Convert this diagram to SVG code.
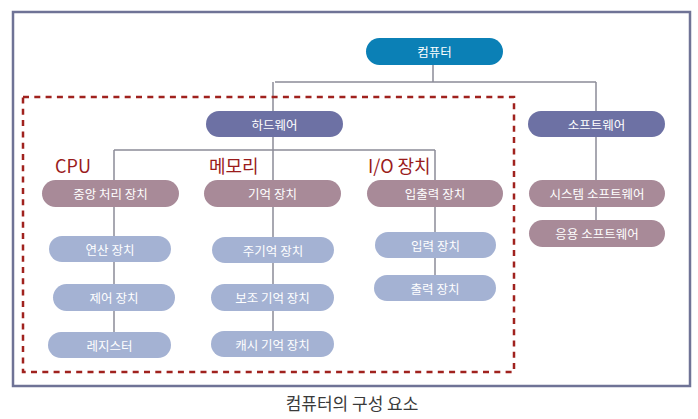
<svg xmlns="http://www.w3.org/2000/svg" width="698" height="419" viewBox="0 0 698 419">
<style>
  .t { font-family: "Noto Sans CJK KR", "Noto Sans", sans-serif; font-size: 12.5px; fill: #ffffff; text-anchor: middle; dominant-baseline: central; }
  .cat { font-family: "Noto Sans CJK KR", "Noto Sans", sans-serif; font-size: 18px; fill: #9a1c1c; }
  .top { fill: #0b80b6; }
  .mid { fill: #6d71a4; }
  .sub { fill: #a88a98; }
  .leaf { fill: #a4b2d3; }
  .conn { stroke: #8c8c98; stroke-width: 1.5; fill: none; }
</style>
<rect x="0" y="0" width="698" height="419" fill="#ffffff"/>
<rect id="frame" x="13" y="12" width="677" height="374" fill="#ffffff" stroke="#6f7396" stroke-width="2.5"/>
<g id="connectors">
  <path class="conn" d="M433 65 V82 M275 82 H596 M273 82 V331 M596 82 V220 M114 150 H435 M114 150 V332 M435 150 V275"/>
</g>
<rect id="hw-group" x="23" y="97" width="491" height="275" fill="none" stroke="#a0221e" stroke-width="2.5" stroke-dasharray="6,5.3"/>
<g id="n-computer"><rect class="top" x="366" y="38" width="137" height="27" rx="13.5"/><text class="t" x="434.5" y="51.5">컴퓨터</text></g>
<g id="n-hardware"><rect class="mid" x="206" y="111" width="137" height="26" rx="13"/><text class="t" x="274.5" y="124">하드웨어</text></g>
<g id="n-software"><rect class="mid" x="528" y="111" width="137" height="26" rx="13"/><text class="t" x="596.5" y="124">소프트웨어</text></g>
<text class="cat" x="55" y="173">CPU</text>
<text class="cat" x="209" y="173">메모리</text>
<text class="cat" x="368" y="173">I/O 장치</text>
<g id="n-cpu"><rect class="sub" x="42" y="180" width="137" height="27" rx="13.5"/><text class="t" x="110.5" y="193.5">중앙 처리 장치</text></g>
<g id="n-mem"><rect class="sub" x="204" y="180" width="137" height="27" rx="13.5"/><text class="t" x="272.5" y="193.5">기억 장치</text></g>
<g id="n-io"><rect class="sub" x="367" y="180" width="136" height="27" rx="13.5"/><text class="t" x="435" y="193.5">입출력 장치</text></g>
<g id="n-syssw"><rect class="sub" x="529" y="180" width="136" height="27" rx="13.5"/><text class="t" x="597" y="193.5">시스템 소프트웨어</text></g>
<g id="n-appsw"><rect class="sub" x="529" y="220" width="136" height="27" rx="13.5"/><text class="t" x="597" y="233.5">응용 소프트웨어</text></g>
<g id="n-alu"><rect class="leaf" x="49" y="236" width="122" height="26" rx="13"/><text class="t" x="110" y="249">연산 장치</text></g>
<g id="n-cu"><rect class="leaf" x="53" y="284" width="122" height="27" rx="13.5"/><text class="t" x="114" y="297.5">제어 장치</text></g>
<g id="n-reg"><rect class="leaf" x="48" y="332" width="123" height="26" rx="13"/><text class="t" x="109.5" y="345">레지스터</text></g>
<g id="n-main"><rect class="leaf" x="212" y="237" width="122" height="26" rx="13"/><text class="t" x="273" y="250">주기억 장치</text></g>
<g id="n-aux"><rect class="leaf" x="211" y="284" width="123" height="27" rx="13.5"/><text class="t" x="272.5" y="297.5">보조 기억 장치</text></g>
<g id="n-cache"><rect class="leaf" x="211" y="331" width="123" height="26" rx="13"/><text class="t" x="272.5" y="344">캐시 기억 장치</text></g>
<g id="n-in"><rect class="leaf" x="375" y="232" width="121" height="26" rx="13"/><text class="t" x="435.5" y="245">입력 장치</text></g>
<g id="n-out"><rect class="leaf" x="374" y="275" width="122" height="26" rx="13"/><text class="t" x="435" y="288">출력 장치</text></g>
<text x="352" y="410" font-family="Noto Sans CJK KR, Noto Sans, sans-serif" font-size="17" fill="#3a3a3a" text-anchor="middle">컴퓨터의 구성 요소</text>
</svg>
